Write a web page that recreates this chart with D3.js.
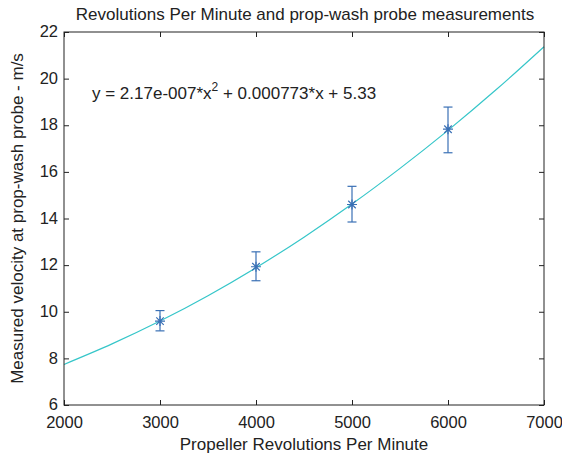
<!DOCTYPE html>
<html><head><meta charset="utf-8">
<script src="https://cdn.jsdelivr.net/npm/d3@7"></script>
<style>body{margin:0;background:#fff;} text{font-family:"Liberation Sans",Arial,sans-serif;fill:#222;}</style>
</head><body>
<svg id="c" width="562" height="456"></svg>
<script>
const xTicks = [2000,3000,4000,5000,6000,7000];
const yTicks = [6,8,10,12,14,16,18,20,22];
// fitted curve samples (rpm, m/s)
const curveRpm = [2000,2500,3000,3500,4000,4500,5000,5500,6000,6500,7000];
const curveVel = [7.74,8.62,9.60,10.69,11.89,13.20,14.62,16.15,17.78,19.52,21.37];
// measurements with error bars
const measRpm = [3000,4000,5000,6000];
const measVel = [9.60,11.93,14.60,17.83];
const measLow = [9.18,11.33,13.85,16.82];
const measHigh = [10.05,12.57,15.38,18.78];

const FS = "17px";
const TFS = "16.5px";
const svg = d3.select("#c");
const L=64,R=544,T=32,B=405;
const x = d3.scaleLinear().domain([2000,7000]).range([L,R]);
const y = d3.scaleLinear().domain([6,22]).range([B,T]);

// curve
svg.append("path").datum(curveRpm.map((r,i)=>[r,curveVel[i]]))
  .attr("d", d3.line().x(d=>x(d[0])).y(d=>y(d[1])).curve(d3.curveCatmullRom))
  .attr("fill","none").attr("stroke","#36c6c9").attr("stroke-width",1.2);

// error bars
const eb = svg.append("g").attr("stroke","#3a70b5").attr("stroke-width",1.2).attr("fill","none");
measRpm.forEach((r,i)=>{
  const cx=x(r);
  eb.append("line").attr("x1",cx).attr("x2",cx).attr("y1",y(measLow[i])).attr("y2",y(measHigh[i]));
  eb.append("line").attr("x1",cx-4.5).attr("x2",cx+4.5).attr("y1",y(measLow[i])).attr("y2",y(measLow[i]));
  eb.append("line").attr("x1",cx-4.5).attr("x2",cx+4.5).attr("y1",y(measHigh[i])).attr("y2",y(measHigh[i]));
  const cy=y(measVel[i]), s=5;
  eb.append("path").attr("d",`M${cx-s},${cy}H${cx+s}M${cx},${cy-s}V${cy+s}M${cx-s*0.75},${cy-s*0.75}L${cx+s*0.75},${cy+s*0.75}M${cx-s*0.75},${cy+s*0.75}L${cx+s*0.75},${cy-s*0.75}`);
});

// axes box
svg.append("rect").attr("x",L).attr("y",T).attr("width",R-L).attr("height",B-T)
  .attr("fill","none").attr("stroke","#222").attr("stroke-width",1);

const tl=5;
const axB = svg.append("g").attr("transform",`translate(0,${B})`)
  .call(d3.axisBottom(x).tickValues(xTicks).tickSize(-tl).tickPadding(11).tickFormat(d3.format("d")));
const axT = svg.append("g").attr("transform",`translate(0,${T})`)
  .call(d3.axisTop(x).tickValues(xTicks).tickSize(-tl).tickFormat(""));
const axL = svg.append("g").attr("transform",`translate(${L},0)`)
  .call(d3.axisLeft(y).tickValues(yTicks).tickSize(-tl).tickPadding(6));
const axR = svg.append("g").attr("transform",`translate(${R},0)`)
  .call(d3.axisRight(y).tickValues(yTicks).tickSize(-tl).tickFormat(""));
[axB,axT,axL,axR].forEach(a=>{a.select(".domain").remove();a.selectAll("line").attr("stroke","#222");
  a.selectAll("text").style("font-size",TFS).attr("fill","#222").style("font-family","'Liberation Sans',Arial,sans-serif");});
axL.selectAll("text").attr("dy","0.28em");

svg.append("text").attr("x",(L+R)/2+1).attr("y",20).attr("text-anchor","middle").style("font-size",FS)
  .text("Revolutions Per Minute and prop-wash probe measurements");
svg.append("text").attr("x",(L+R)/2).attr("y",450).attr("text-anchor","middle").style("font-size",FS)
  .text("Propeller Revolutions Per Minute");
svg.append("text").attr("transform",`translate(23,${(T+B)/2}) rotate(-90)`).attr("text-anchor","middle").style("font-size",FS)
  .text("Measured velocity at prop-wash probe - m/s");

const eq = svg.append("text").attr("x",92).attr("y",99).style("font-size",FS);
eq.append("tspan").text("y = 2.17e-007*x");
eq.append("tspan").attr("dy",-8).style("font-size","12px").text("2");
eq.append("tspan").attr("dy",8).text(" + 0.000773*x + 5.33");
</script>
</body></html>
